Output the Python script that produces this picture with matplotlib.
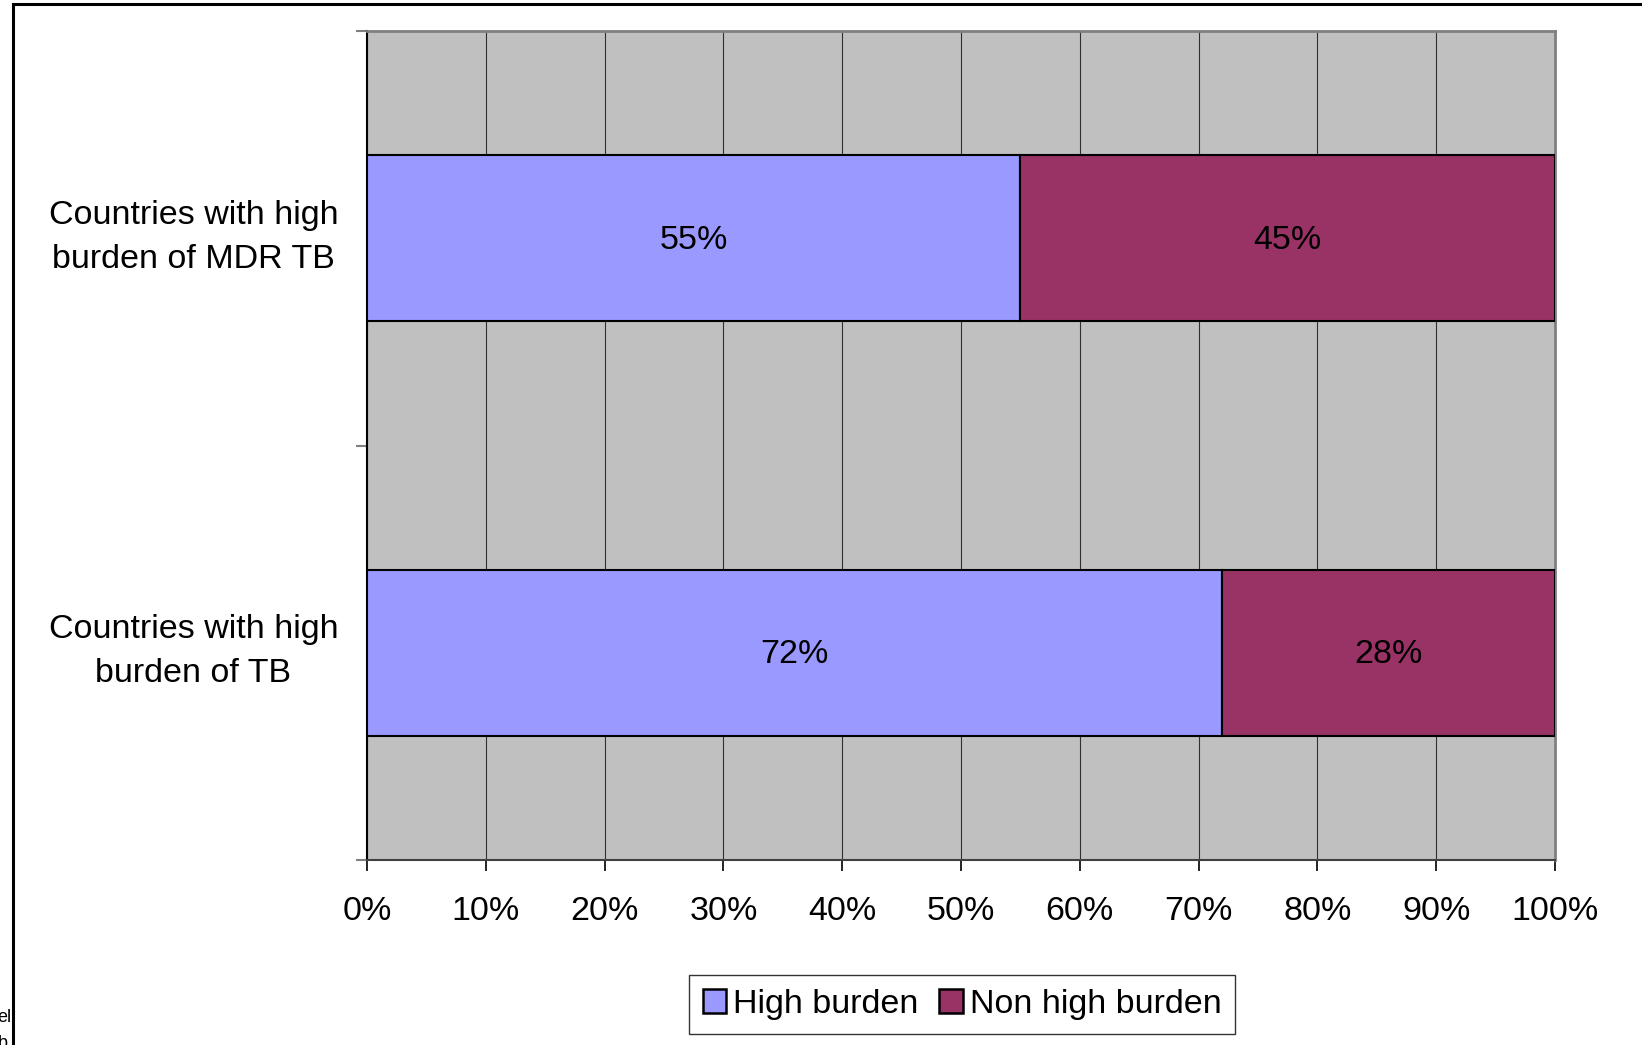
import matplotlib
matplotlib.use('Agg')
import matplotlib.pyplot as plt
import matplotlib.transforms as mtransforms
from matplotlib.lines import Line2D
from matplotlib.ticker import FuncFormatter

plt.rcParams['font.family'] = ['Liberation Sans', 'DejaVu Sans']

categories = ['Countries with high\nburden of TB', 'Countries with high\nburden of MDR TB']
high_burden = [72, 55]
non_high_burden = [28, 45]
series_names = ['High burden', 'Non high burden']
colors = ['#9999FF', '#993366']
xticks = list(range(0, 101, 10))

W, H = 1642, 1045
FS = 24.5
fig = plt.figure(figsize=(W / 100, H / 100), dpi=100)
ax = fig.add_axes([367 / W, 1 - 860 / H, (1555 - 367) / W, (860 - 31) / H])
ax.set_facecolor('#C0C0C0')

ypos = list(range(len(categories)))
b1 = ax.barh(ypos, high_burden, height=0.4, color=colors[0], edgecolor='black',
             linewidth=1.5, label=series_names[0], zorder=3)
b2 = ax.barh(ypos, non_high_burden, left=high_burden, height=0.4, color=colors[1],
             edgecolor='black', linewidth=1.5, label=series_names[1], zorder=3)
for bars in (b1, b2):
    for rect in bars:
        w = rect.get_width()
        ax.text(rect.get_x() + w / 2, rect.get_y() + rect.get_height() / 2 - 0.005,
                '%d%%' % round(w), ha='center', va='center', fontsize=FS, zorder=4)

ax.set_xlim(0, 100)
ax.set_ylim(-0.5, 1.5)
ax.set_xticks(xticks)
ax.xaxis.set_major_formatter(FuncFormatter(lambda v, p: '%d%%' % v))
ax.grid(axis='x', color='#303030', linewidth=0.8, zorder=1)
ax.set_axisbelow(True)

ax.set_yticks([-0.5, 0.5, 1.5])
ax.set_yticklabels([])
ax.set_yticks(ypos, minor=True)
ax.set_yticklabels(categories, minor=True, fontsize=FS, multialignment='center',
                   ha='center', linespacing=1.55)
ax.tick_params(axis='y', which='minor', length=0, pad=125)
ax.tick_params(axis='y', which='major', length=8, width=1.5, color='#808080', direction='out')
ax.tick_params(axis='x', length=8, width=1.2, direction='out', labelsize=FS, pad=18)
# lift the category labels a little above the bar centres
lift = mtransforms.ScaledTranslation(0, 8 / 72, fig.dpi_scale_trans)
for lab in ax.get_yticklabels(minor=True):
    lab.set_transform(lab.get_transform() + lift)

for s in ('top', 'right'):
    ax.spines[s].set_color('#808080')
    ax.spines[s].set_linewidth(2)
ax.spines['left'].set_color('black')
ax.spines['left'].set_linewidth(1.5)
ax.spines['bottom'].set_color('#404040')
ax.spines['bottom'].set_linewidth(1.5)

leg = fig.legend(loc='center', bbox_to_anchor=(962 / W, 40.5 / H), ncol=2, fontsize=FS,
                 frameon=True, fancybox=False, edgecolor='black', handlelength=0.7,
                 handleheight=0.7, handletextpad=0.2, columnspacing=0.6, borderpad=0.4)
leg.get_frame().set_linewidth(1)
for h in leg.legend_handles:
    h.set_linewidth(1.8)

# outer chart frame (left and top edges)
x0 = 13 / W
y0 = 1 - 4 / H
fig.add_artist(Line2D([x0, x0], [0, y0], color='black', linewidth=2.2))
fig.add_artist(Line2D([x0, 1], [y0, y0], color='black', linewidth=2.2))
fig.text(11 / W, 1 - 1018 / H, 'el', ha='right', va='center', fontsize=13)
fig.text(8 / W, 1 - 1043 / H, 'b', ha='right', va='center', fontsize=13)

fig.savefig('out.png', dpi=100)
